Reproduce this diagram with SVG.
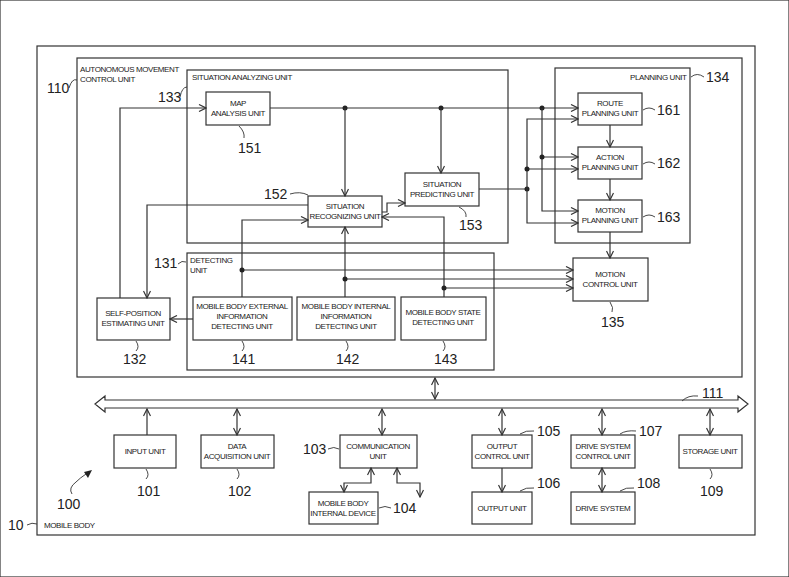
<svg xmlns="http://www.w3.org/2000/svg" width="789" height="577" viewBox="0 0 789 577">
<style>
rect{fill:#fff;stroke:#333;stroke-width:1.2}
.b{fill:none}
text{font-family:"Liberation Sans",Arial,sans-serif;fill:#222}
.t{font-size:8px;text-anchor:middle;letter-spacing:-0.4px}
.tl{font-size:8px;letter-spacing:-0.4px}
.n{font-size:14px}
.c line,.c path,.c polyline{fill:none;stroke:#333;stroke-width:1.2}
.lead{fill:none;stroke:#333;stroke-width:0.9}
.dot{fill:#222}
</style>
<defs>
<marker id="a" markerWidth="9" markerHeight="8" refX="8" refY="4" orient="auto-start-reverse" markerUnits="userSpaceOnUse"><path d="M1,0.5 L8,4 L1,7.5" fill="none" stroke="#333" stroke-width="1.2"/></marker>
</defs>
<rect width="789" height="577" fill="#fff" stroke="none"/>
<g id="mobile-body"><rect class="b" x="37" y="46" width="718" height="489"/><text class="tl" x="44" y="528">MOBILE BODY</text><text class="n" x="8" y="530">10</text><path class="lead" d="M27,525 q5,-3 10,-1"/></g>
<g id="amcu"><rect class="b" x="77" y="58" width="665" height="319"/><text class="tl" x="80" y="72">AUTONOMOUS MOVEMENT</text><text class="tl" x="80" y="82">CONTROL UNIT</text><text class="n" x="47" y="93">110</text><path class="lead" d="M69,88 q3,-10 8,-8"/></g>
<g id="sau"><rect class="b" x="187" y="70" width="321" height="173"/><text class="tl" x="192" y="80">SITUATION ANALYZING UNIT</text><text class="n" x="158" y="102">133</text><path class="lead" d="M180,97 q2,-10 7,-10"/></g>
<g id="pu"><rect class="b" x="555" y="68" width="135" height="175"/><text class="tl" x="630" y="80">PLANNING UNIT</text><text class="n" x="706" y="82">134</text><path class="lead" d="M691,77 q6,-5 13,0"/></g>
<g id="du"><rect class="b" x="187" y="253" width="307" height="117"/><text class="tl" x="190" y="263">DETECTING</text><text class="tl" x="190" y="273">UNIT</text><text class="n" x="154" y="268">131</text><path class="lead" d="M178,264 q4,-4 8,-2"/></g>

<g id="map"><rect x="206" y="92" width="64" height="33"/><text class="t" x="238" y="106">MAP</text><text class="t" x="238" y="116">ANALYSIS UNIT</text><text class="n" x="238" y="153">151</text><path class="lead" d="M239,126 q6,6 5,12"/></g>
<g id="recog"><rect x="308" y="196" width="74" height="31"/><text class="t" x="345" y="209">SITUATION</text><text class="t" x="345" y="219">RECOGNIZING UNIT</text><text class="n" x="264" y="199">152</text><path class="lead" d="M290,194 q10,-3 18,1"/></g>
<g id="pred"><rect x="405" y="173" width="74" height="33"/><text class="t" x="442" y="187">SITUATION</text><text class="t" x="442" y="197">PREDICTING UNIT</text><text class="n" x="459" y="230">153</text><path class="lead" d="M459,207 q8,4 7,10"/></g>
<g id="route"><rect x="578" y="93" width="64" height="32"/><text class="t" x="610" y="106">ROUTE</text><text class="t" x="610" y="116">PLANNING UNIT</text><text class="n" x="657" y="115">161</text><path class="lead" d="M643,110 q6,-4 12,0"/></g>
<g id="action"><rect x="578" y="147" width="64" height="32"/><text class="t" x="610" y="160">ACTION</text><text class="t" x="610" y="170">PLANNING UNIT</text><text class="n" x="657" y="168">162</text><path class="lead" d="M643,164 q6,-4 12,0"/></g>
<g id="motionp"><rect x="578" y="200" width="64" height="32"/><text class="t" x="610" y="213">MOTION</text><text class="t" x="610" y="223">PLANNING UNIT</text><text class="n" x="657" y="222">163</text><path class="lead" d="M643,217 q6,-4 12,0"/></g>
<g id="motionc"><rect x="573" y="258" width="75" height="43"/><text class="t" x="610" y="277">MOTION</text><text class="t" x="610" y="287">CONTROL UNIT</text><text class="n" x="601" y="327">135</text><path class="lead" d="M610,302 q4,6 2,10"/></g>
<g id="selfpos"><rect x="97" y="298" width="73" height="42"/><text class="t" x="133" y="316">SELF-POSITION</text><text class="t" x="133" y="326">ESTIMATING UNIT</text><text class="n" x="123" y="364">132</text><path class="lead" d="M136,341 q4,6 0,10"/></g>
<g id="mbe"><rect x="193" y="297" width="99" height="43"/><text class="t" x="242" y="309">MOBILE BODY EXTERNAL</text><text class="t" x="242" y="319">INFORMATION</text><text class="t" x="242" y="329">DETECTING UNIT</text><text class="n" x="232" y="364">141</text><path class="lead" d="M242,341 q4,6 0,10"/></g>
<g id="mbi"><rect x="297" y="297" width="98" height="43"/><text class="t" x="346" y="309">MOBILE BODY INTERNAL</text><text class="t" x="346" y="319">INFORMATION</text><text class="t" x="346" y="329">DETECTING UNIT</text><text class="n" x="336" y="364">142</text><path class="lead" d="M346,341 q4,6 0,10"/></g>
<g id="mbs"><rect x="401" y="297" width="85" height="43"/><text class="t" x="443" y="315">MOBILE BODY STATE</text><text class="t" x="443" y="325">DETECTING UNIT</text><text class="n" x="434" y="364">143</text><path class="lead" d="M443,341 q4,6 0,10"/></g>

<g id="input"><rect x="114" y="435" width="62" height="33"/><text class="t" x="145" y="454">INPUT UNIT</text><text class="n" x="137" y="496">101</text><path class="lead" d="M146,469 q4,6 0,10"/></g>
<g id="data"><rect x="201" y="435" width="73" height="33"/><text class="t" x="237" y="449">DATA</text><text class="t" x="237" y="459">ACQUISITION UNIT</text><text class="n" x="228" y="496">102</text><path class="lead" d="M237,469 q4,6 0,10"/></g>
<g id="comm"><rect x="340" y="435" width="77" height="33"/><text class="t" x="378" y="449">COMMUNICATION</text><text class="t" x="378" y="459">UNIT</text><text class="n" x="303" y="454">103</text><path class="lead" d="M328,449 q6,-3 11,0"/></g>
<g id="mbid"><rect x="309" y="492" width="69" height="32"/><text class="t" x="343" y="506">MOBILE BODY</text><text class="t" x="343" y="516">INTERNAL DEVICE</text><text class="n" x="393" y="513">104</text><path class="lead" d="M379,508 q6,-3 12,0"/></g>
<g id="outc"><rect x="472" y="435" width="60" height="33"/><text class="t" x="502" y="449">OUTPUT</text><text class="t" x="502" y="459">CONTROL UNIT</text><text class="n" x="537" y="436">105</text><path class="lead" d="M520,434 q6,-4 14,-3"/></g>
<g id="out"><rect x="472" y="492" width="60" height="32"/><text class="t" x="502" y="511">OUTPUT UNIT</text><text class="n" x="537" y="488">106</text><path class="lead" d="M520,491 q6,-4 14,-3"/></g>
<g id="dsc"><rect x="571" y="435" width="64" height="33"/><text class="t" x="603" y="449">DRIVE SYSTEM</text><text class="t" x="603" y="459">CONTROL UNIT</text><text class="n" x="639" y="436">107</text><path class="lead" d="M620,434 q6,-4 16,-3"/></g>
<g id="ds"><rect x="571" y="492" width="64" height="32"/><text class="t" x="603" y="511">DRIVE SYSTEM</text><text class="n" x="637" y="488">108</text><path class="lead" d="M620,491 q6,-4 14,-3"/></g>
<g id="storage"><rect x="679" y="435" width="63" height="33"/><text class="t" x="710" y="454">STORAGE UNIT</text><text class="n" x="700" y="496">109</text><path class="lead" d="M710,469 q4,6 0,10"/></g>
<g id="bus"><path d="M95,404 L105,396 L105,400 L738,400 L738,396 L748,404 L738,412 L738,408 L105,408 L105,412 Z" fill="#fff" stroke="#333" stroke-width="1.2"/><text class="n" x="702" y="398">111</text><path class="lead" d="M682,401 q6,-6 16,-5"/></g>
<g id="label100"><text class="n" x="57" y="509">100</text><path class="lead" d="M72,494 q-4,-6 4,-12 q4,-4 10,-8"/><path d="M92,470 L84,472 L88,478 Z" fill="#222"/></g>

<g id="connectors" class="c">
<polyline points="270,108 578,108" marker-end="url(#a)"/>
<circle class="dot" cx="345" cy="108" r="2.5"/><circle class="dot" cx="441" cy="108" r="2.5"/><circle class="dot" cx="542" cy="108" r="2.5"/>
<line x1="345" y1="108" x2="345" y2="196" marker-end="url(#a)"/>
<line x1="441" y1="108" x2="441" y2="173" marker-end="url(#a)"/>
<polyline points="542,108 542,211 578,211" marker-end="url(#a)"/>
<line x1="542" y1="157" x2="578" y2="157" marker-end="url(#a)"/>
<circle class="dot" cx="542" cy="157" r="2.5"/>
<line x1="479" y1="189" x2="527" y2="189"/>
<circle class="dot" cx="527" cy="189" r="2.5"/>
<polyline points="578,119 527,119 527,223 578,223" marker-start="url(#a)" marker-end="url(#a)"/>
<line x1="527" y1="169" x2="578" y2="169" marker-end="url(#a)"/>
<circle class="dot" cx="527" cy="169" r="2.5"/>
<line x1="610" y1="125" x2="610" y2="147" marker-end="url(#a)"/>
<line x1="610" y1="179" x2="610" y2="200" marker-end="url(#a)"/>
<line x1="610" y1="232" x2="610" y2="258" marker-end="url(#a)"/>
<polyline points="382,212 387,212 387,203 405,203" marker-end="url(#a)"/>
<polyline points="120,298 120,108 206,108" marker-end="url(#a)"/>
<polyline points="308,205 147,205 147,298" marker-end="url(#a)"/>
<polyline points="242,297 242,220 308,220" marker-end="url(#a)"/>
<line x1="345" y1="297" x2="345" y2="227" marker-end="url(#a)"/>
<polyline points="444,297 444,217 382,217" marker-end="url(#a)"/>
<line x1="242" y1="270" x2="573" y2="270" marker-end="url(#a)"/>
<line x1="345" y1="279" x2="573" y2="279" marker-end="url(#a)"/>
<line x1="444" y1="288" x2="573" y2="288" marker-end="url(#a)"/>
<circle class="dot" cx="242" cy="270" r="2.5"/><circle class="dot" cx="345" cy="279" r="2.5"/><circle class="dot" cx="444" cy="288" r="2.5"/>
<line x1="193" y1="319" x2="170" y2="319" marker-end="url(#a)"/>
<line x1="435" y1="378" x2="435" y2="399" marker-start="url(#a)" marker-end="url(#a)"/>
<line x1="147" y1="435" x2="147" y2="409" marker-end="url(#a)"/>
<line x1="237" y1="409" x2="237" y2="435" marker-start="url(#a)" marker-end="url(#a)"/>
<line x1="382" y1="409" x2="382" y2="435" marker-start="url(#a)" marker-end="url(#a)"/>
<line x1="502" y1="409" x2="502" y2="435" marker-start="url(#a)" marker-end="url(#a)"/>
<line x1="602" y1="409" x2="602" y2="435" marker-start="url(#a)" marker-end="url(#a)"/>
<line x1="710" y1="409" x2="710" y2="435" marker-start="url(#a)" marker-end="url(#a)"/>
<line x1="502" y1="468" x2="502" y2="492" marker-end="url(#a)"/>
<line x1="602" y1="468" x2="602" y2="492" marker-start="url(#a)" marker-end="url(#a)"/>
<polyline points="371,468 371,483 344,483 344,492" marker-start="url(#a)" marker-end="url(#a)"/>
<polyline points="397,468 397,483 420,483 420,497" marker-start="url(#a)" marker-end="url(#a)"/>
</g>
</svg>
